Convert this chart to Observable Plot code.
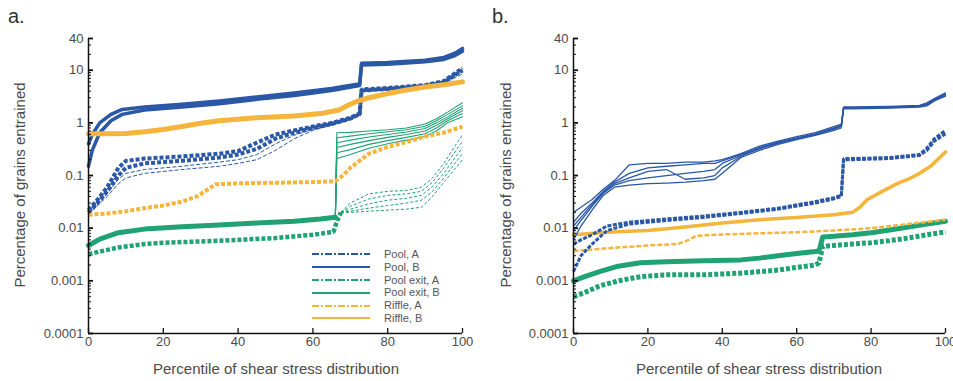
<!DOCTYPE html>
<html>
<head>
<meta charset="utf-8">
<script src="https://cdn.jsdelivr.net/npm/d3@7"></script>
<script src="https://cdn.jsdelivr.net/npm/@observablehq/plot@0.6"></script>
<style>
  body { margin: 0; background: #fff; }
  #wrap { position: relative; width: 953px; height: 381px; overflow: hidden; font-family: "Liberation Sans", Arial, sans-serif; color: #444; }
  .pl { position: absolute; top: 0; }
  .ttl { position: absolute; white-space: nowrap; font-size: 15px; color: #4a4a4a; }
  .ytl { transform: translate(-50%, -50%) rotate(-90deg); }
  .xtl { transform: translate(-50%, -50%); }
  .plab { position: absolute; font-size: 20px; color: #333; }
  #legend { position: absolute; left: 310px; top: 248px; font-size: 11px; color: #555; }
  #legend .row { height: 12.8px; line-height: 12.8px; display: flex; align-items: center; }
  #legend svg { width: 62px; height: 8px; margin-right: 12px; }
</style>
</head>
<body>
<div id="wrap">
  <div class="pl" id="pa" style="left:0"></div>
  <div class="pl" id="pb" style="left:476px"></div>
  <div class="plab" id="la" style="left:8px;top:5px"></div>
  <div class="plab" id="lb" style="left:492px;top:5px"></div>
  <div class="ttl ytl" id="ya" style="left:19px;top:185px"></div>
  <div class="ttl ytl" id="yb" style="left:505px;top:185px"></div>
  <div class="ttl xtl" id="xa" style="left:276px;top:368px"></div>
  <div class="ttl xtl" id="xb" style="left:759px;top:368px"></div>
  <div id="legend"></div>
</div>
<script>
// ---------- labels ----------
const panelLabels = ["a.", "b."];
const xTitle = "Percentile of shear stress distribution";
const yTitle = "Percentage of grains entrained";
const xTicks = [0, 20, 40, 60, 80, 100];
const yTicks = [0.0001, 0.001, 0.01, 0.1, 1, 10, 40];
const yTickLabels = ["0.0001", "0.001", "0.01", "0.1", "1", "10", "40"];
const legendLabels = ["Pool, A", "Pool, B", "Pool exit, A", "Pool exit, B", "Riffle, A", "Riffle, B"];

// ---------- panel a data ----------
const aPoolB_x = [0, 1, 3, 6, 9, 15, 25, 35, 45, 55, 65, 71, 72.5, 73, 80, 90, 95, 98, 100];
const aPoolB_runs = [
  [0.4, 0.6, 1.0, 1.45, 1.8, 2.0, 2.25, 2.6, 3.1, 3.7, 4.5, 5.3, 5.5, 13.5, 14, 15.5, 17.5, 21, 26],
  [0.15, 0.3, 0.65, 1.1, 1.45, 1.75, 2.0, 2.3, 2.8, 3.3, 4.1, 4.9, 5.1, 12.5, 13, 14.5, 16, 19, 23]
];
const aPoolA_x = [0, 2, 5, 8, 10, 15, 25, 35, 40, 45, 50, 55, 60, 65, 70, 71.5, 72.5, 73, 80, 90, 95, 100];
const aPoolA_runs = [
  [0.022, 0.032, 0.06, 0.14, 0.19, 0.21, 0.23, 0.26, 0.29, 0.42, 0.6, 0.72, 0.85, 1.0, 1.25, 1.4, 1.5, 4.3, 4.6, 5.2, 6.2, 11],
  [0.02, 0.028, 0.05, 0.1, 0.14, 0.17, 0.19, 0.22, 0.25, 0.32, 0.5, 0.65, 0.8, 0.95, 1.2, 1.35, 1.45, 4.1, 4.4, 5.0, 5.9, 10]
];
const aPoolAlow_runs = [
  [0.018, 0.025, 0.04, 0.07, 0.09, 0.11, 0.13, 0.15, 0.17, 0.2, 0.3, 0.5, 0.72, 0.9, 1.15, 1.3, 1.4, 3.9, 4.2, 4.8, 5.6, 8.5],
  [0.019, 0.026, 0.045, 0.085, 0.11, 0.13, 0.15, 0.18, 0.2, 0.25, 0.4, 0.58, 0.76, 0.92, 1.18, 1.32, 1.42, 4.0, 4.3, 4.9, 5.8, 9.3]
];
const aRiffleB_x = [0, 5, 10, 15, 20, 25, 30, 35, 45, 55, 62, 67, 69, 72, 75, 80, 85, 90, 95, 100];
const aRiffleB_y = [0.62, 0.62, 0.63, 0.68, 0.75, 0.85, 0.98, 1.1, 1.25, 1.35, 1.5, 1.75, 2.1, 2.6, 3.0, 3.6, 4.2, 4.8, 5.3, 6.0];
const aRiffleA_x = [0, 5, 10, 15, 20, 25, 29, 32, 34, 40, 50, 60, 66, 68, 70, 75, 80, 85, 90, 95, 100];
const aRiffleA_y = [0.018, 0.019, 0.021, 0.024, 0.027, 0.032, 0.04, 0.055, 0.068, 0.071, 0.073, 0.075, 0.078, 0.1, 0.14, 0.26, 0.35, 0.43, 0.55, 0.65, 0.85];
const aExitB_x = [0, 3, 8, 15, 25, 35, 45, 55, 62, 66];
const aExitB_y = [0.0047, 0.0062, 0.0082, 0.0096, 0.0106, 0.0115, 0.0125, 0.0135, 0.015, 0.0162];
const aExitBpost_x = [66, 66.4, 70, 75, 80, 85, 90, 93, 96, 100];
const aExitBpost_runs = [
  [0.016, 0.65, 0.66, 0.7, 0.74, 0.8, 0.95, 1.2, 1.6, 2.4],
  [0.016, 0.52, 0.56, 0.62, 0.68, 0.74, 0.86, 1.1, 1.45, 2.1],
  [0.016, 0.42, 0.47, 0.54, 0.6, 0.67, 0.78, 1.0, 1.3, 1.9],
  [0.016, 0.34, 0.39, 0.46, 0.53, 0.6, 0.7, 0.9, 1.2, 1.7],
  [0.016, 0.27, 0.31, 0.39, 0.46, 0.53, 0.62, 0.8, 1.1, 1.5],
  [0.016, 0.21, 0.25, 0.33, 0.4, 0.47, 0.55, 0.7, 1.0, 1.3]
];
const aExitA_x = [0, 3, 8, 15, 20, 30, 40, 50, 60, 65.5, 66.5, 67.5];
const aExitA_y = [0.0032, 0.0036, 0.0043, 0.005, 0.0053, 0.0056, 0.006, 0.0065, 0.0075, 0.0085, 0.014, 0.02];
const aExitApost_x = [67.5, 70, 75, 80, 85, 89, 92, 95, 100];
const aExitApost_runs = [
  [0.02, 0.03, 0.045, 0.05, 0.052, 0.06, 0.09, 0.17, 0.6],
  [0.02, 0.026, 0.036, 0.042, 0.045, 0.05, 0.075, 0.14, 0.45],
  [0.02, 0.023, 0.029, 0.034, 0.037, 0.042, 0.062, 0.11, 0.34],
  [0.02, 0.021, 0.024, 0.027, 0.03, 0.034, 0.05, 0.09, 0.26],
  [0.02, 0.02, 0.021, 0.022, 0.023, 0.025, 0.04, 0.075, 0.2]
];

// ---------- panel b data ----------
const bPoolB_x = [0, 2, 5, 8, 11, 15, 20, 25, 30, 35, 38, 40, 45, 50, 55, 60, 65, 70, 72, 72.6, 75, 85, 93, 95, 97, 100];
const bPoolB_runs = [
  [0.02, 0.025, 0.035, 0.055, 0.08, 0.16, 0.17, 0.17, 0.18, 0.18, 0.19, 0.2, 0.26, 0.36, 0.45, 0.55, 0.65, 0.85, 0.95, 2.0, 2.0, 2.05, 2.15, 2.4, 2.9, 3.7],
  [0.013, 0.019, 0.03, 0.05, 0.075, 0.11, 0.14, 0.15, 0.16, 0.17, 0.17, 0.19, 0.25, 0.34, 0.43, 0.52, 0.62, 0.8, 0.9, 1.95, 1.95, 2.0, 2.1, 2.3, 2.8, 3.5],
  [0.009, 0.014, 0.026, 0.046, 0.066, 0.08, 0.09, 0.1, 0.11, 0.12, 0.13, 0.17, 0.24, 0.32, 0.41, 0.5, 0.6, 0.76, 0.86, 1.9, 1.9, 1.95, 2.05, 2.2, 2.7, 3.3],
  [0.006, 0.011, 0.022, 0.042, 0.06, 0.066, 0.07, 0.072, 0.075, 0.08, 0.085, 0.11, 0.22, 0.3, 0.39, 0.48, 0.58, 0.72, 0.8, 1.85, 1.85, 1.9, 2.0, 2.1, 2.6, 3.2],
  [0.011, 0.016, 0.028, 0.048, 0.07, 0.09, 0.12, 0.13, 0.085, 0.09, 0.1, 0.14, 0.23, 0.33, 0.42, 0.51, 0.61, 0.78, 0.88, 1.92, 1.92, 1.97, 2.07, 2.25, 2.75, 3.4]
];
const bPoolA_x = [0, 2, 5, 9, 15, 25, 35, 45, 55, 65, 70, 72, 72.6, 75, 85, 93, 95, 97, 100];
const bPoolA_runs = [
  [0.005, 0.006, 0.0075, 0.011, 0.013, 0.015, 0.017, 0.02, 0.024, 0.032, 0.038, 0.042, 0.21, 0.21, 0.22, 0.25, 0.33, 0.5, 0.72],
  [0.0015, 0.003, 0.005, 0.009, 0.012, 0.014, 0.016, 0.019, 0.023, 0.03, 0.036, 0.04, 0.2, 0.2, 0.21, 0.24, 0.3, 0.45, 0.62]
];
const bRiffleB_x = [0, 10, 20, 30, 40, 50, 60, 70, 75, 77, 79, 83, 87, 90, 93, 96, 100];
const bRiffleB_y = [0.0075, 0.0085, 0.009, 0.0105, 0.0125, 0.0145, 0.016, 0.018, 0.02, 0.025, 0.035, 0.05, 0.07, 0.085, 0.11, 0.15, 0.28];
const bRiffleA_x = [0, 10, 20, 28, 31, 33, 40, 50, 60, 70, 80, 90, 100];
const bRiffleA_y = [0.0037, 0.0042, 0.0047, 0.005, 0.006, 0.0072, 0.0076, 0.008, 0.0084, 0.009, 0.01, 0.012, 0.0145];
const bExitB_x = [0, 3, 7, 12, 18, 25, 35, 45, 50, 55, 60, 65, 66, 67, 70, 75, 80, 85, 90, 95, 100];
const bExitB_y = [0.001, 0.0012, 0.0015, 0.0019, 0.0022, 0.0023, 0.0024, 0.0025, 0.0027, 0.003, 0.0033, 0.0036, 0.0037, 0.0068, 0.007, 0.0075, 0.0082, 0.0092, 0.0105, 0.012, 0.0135];
const bExitA_x = [0, 3, 7, 12, 18, 25, 35, 45, 55, 60, 65, 66, 67, 70, 75, 80, 85, 90, 95, 100];
const bExitA_y = [0.0005, 0.0006, 0.0008, 0.001, 0.0012, 0.0013, 0.0013, 0.0014, 0.0016, 0.0018, 0.002, 0.0022, 0.0045, 0.0047, 0.005, 0.0053, 0.0058, 0.0065, 0.0075, 0.0085];

// ---------- styling ----------
const BLUE = "#2a57a6", GREEN = "#20a274", ORANGE = "#f5b43c";
const FONT = "'Liberation Sans', Arial, sans-serif";

function rows(xs, runs) {
  const out = [];
  runs.forEach((ys, r) => xs.forEach((x, i) => out.push({x, y: ys[i], run: r})));
  return out;
}
function lineMark(xs, runs, stroke, strokeWidth, dash) {
  return Plot.line(rows(xs, runs), {x: "x", y: "y", z: "run", stroke, strokeWidth,
    strokeDasharray: dash, strokeLinecap: dash ? "butt" : "round", strokeLinejoin: dash ? "miter" : "round"});
}

const tickLabelMap = new Map(yTicks.map((t, i) => [t, yTickLabels[i]]));
const minorTicks = d3.scaleLog().domain([0.0001, 40]).ticks().filter(t => !yTicks.includes(t));

function panel(lines, width, marginLeft, marginRight) {
  return Plot.plot({
    width, height: 381, marginLeft, marginRight, marginTop: 38, marginBottom: 48,
    x: {domain: [0, 100]},
    y: {type: "log", domain: [0.0001, 40]},
    style: {fontFamily: FONT, fontSize: "13px", color: "#111", background: "transparent", overflow: "visible"},
    marks: [
      ...lines,
      Plot.ruleX([0], {stroke: "#111", strokeWidth: 1.5}),
      Plot.ruleY([0.0001], {stroke: "#111", strokeWidth: 1.5}),
      Plot.axisX({ticks: xTicks, tickSize: -5, tickFormat: () => "", label: null, strokeWidth: 1.3}),
      Plot.axisX({ticks: xTicks, tickSize: 0, tickPadding: 3, label: null, fill: "#4a4a4a"}),
      Plot.axisY({ticks: minorTicks, tickSize: -3, tickFormat: () => "", label: null, strokeWidth: 1}),
      Plot.axisY({ticks: yTicks, tickSize: -5, tickFormat: () => "", label: null, strokeWidth: 1.8}),
      Plot.text(yTicks, {y: d => d, text: d => tickLabelMap.get(d), frameAnchor: "left",
        textAnchor: "end", dx: -5, fill: "#4a4a4a", fontSize: 13})
    ]
  });
}

const linesA = [
  lineMark(aExitA_x, [aExitA_y], GREEN, 4.5, "4,2"),
  lineMark(aExitApost_x, aExitApost_runs, GREEN, 1, "3,2"),
  lineMark(aExitB_x, [aExitB_y], GREEN, 5),
  lineMark(aExitBpost_x, aExitBpost_runs, GREEN, 1.1),
  lineMark(aPoolA_x, aPoolAlow_runs, BLUE, 1, "4,2"),
  lineMark(aPoolA_x, aPoolA_runs, BLUE, 4, "4,2"),
  lineMark(aRiffleA_x, [aRiffleA_y], ORANGE, 4, "4,2"),
  lineMark(aPoolB_x, aPoolB_runs, BLUE, 3.5),
  lineMark(aRiffleB_x, [aRiffleB_y], ORANGE, 5)
];
const linesB = [
  lineMark(bExitA_x, [bExitA_y], GREEN, 5, "4,2"),
  lineMark(bExitB_x, [bExitB_y], GREEN, 5),
  lineMark(bRiffleA_x, [bRiffleA_y], ORANGE, 2.5, "5,2"),
  lineMark(bRiffleB_x, [bRiffleB_y], ORANGE, 3.5),
  lineMark(bPoolA_x, bPoolA_runs, BLUE, 3, "4,1.5"),
  lineMark(bPoolB_x, bPoolB_runs, BLUE, 1.3)
];

document.getElementById("pa").appendChild(panel(linesA, 476, 88, 14));
document.getElementById("pb").appendChild(panel(linesB, 477, 97, 8));

document.getElementById("la").textContent = panelLabels[0];
document.getElementById("lb").textContent = panelLabels[1];
document.getElementById("ya").textContent = yTitle;
document.getElementById("yb").textContent = yTitle;
document.getElementById("xa").textContent = xTitle;
document.getElementById("xb").textContent = xTitle;

// legend
const legendColors = [BLUE, BLUE, GREEN, GREEN, ORANGE, ORANGE];
const legendDash = ["7,2,2,2", null, "7,2,2,2", null, "7,2,2,2", null];
const leg = document.getElementById("legend");
legendLabels.forEach((lab, i) => {
  const row = document.createElement("div");
  row.className = "row";
  const dash = legendDash[i] ? ` stroke-dasharray="${legendDash[i]}"` : "";
  row.innerHTML = `<svg viewBox="0 0 62 8"><line x1="2" y1="4" x2="60" y2="4" stroke="${legendColors[i]}" stroke-width="2"${dash}/></svg><span></span>`;
  row.querySelector("span").textContent = lab;
  leg.appendChild(row);
});
</script>
</body>
</html>
